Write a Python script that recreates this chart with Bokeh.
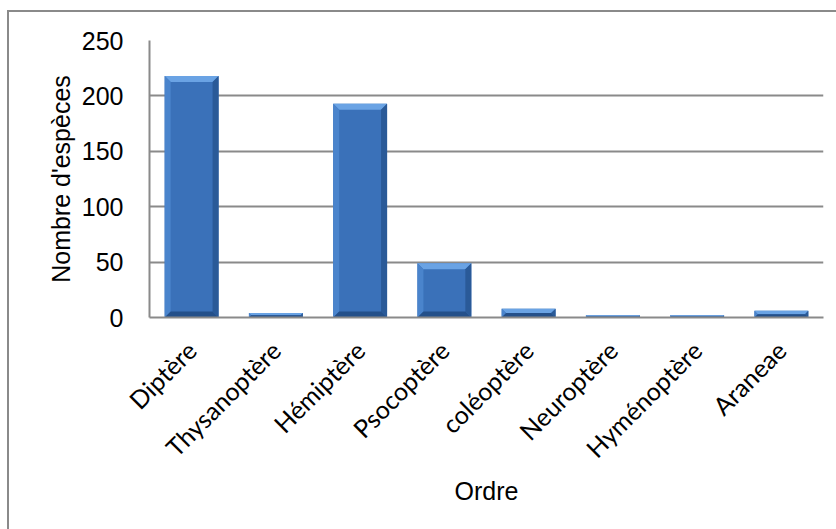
import math

from bokeh.embed import file_html
from bokeh.models import FixedTicker, InlineStyleSheet, Range1d
from bokeh.plotting import figure
from bokeh.resources import INLINE

# Number of species recorded per insect order (plus spiders)
orders = ["Diptère", "Thysanoptère", "Hémiptère", "Psocoptère",
          "coléoptère", "Neuroptère", "Hyménoptère", "Araneae"]
species = [218, 4, 193, 49, 8, 2, 2, 6]
y_ticks = [0, 50, 100, 150, 200, 250]

W, H = 836, 529
BORDER_L, BORDER_R, BORDER_T, BORDER_B = 149, 13, 40, 212
Y_MAX = 250

GRID = "#8a8a8a"

# grey chart-area frame drawn around the whole figure
frame_css = InlineStyleSheet(css=f"""
:host {{ position: relative; }}
:host::after {{
  content: "";
  position: absolute;
  left: 7px; top: 10px; right: -20px; bottom: -20px;
  border: 2px solid {GRID};
  pointer-events: none;
}}
""")

p = figure(width=W, height=H, output_backend="svg", toolbar_location=None,
           x_range=Range1d(-0.5, len(orders) - 0.5), y_range=Range1d(0, Y_MAX),
           min_border_left=BORDER_L, min_border_right=BORDER_R,
           min_border_top=BORDER_T, min_border_bottom=BORDER_B,
           background_fill_color="white", border_fill_color="white",
           stylesheets=[frame_css])
p.outline_line_color = None

# pixel size of one data unit, used to keep the bevel a constant width on screen
px_x = (W - BORDER_L - BORDER_R) / len(orders)
px_y = (H - BORDER_T - BORDER_B) / Y_MAX
bevel_px = 6.0

hw = 0.32
xs = list(range(len(orders)))
lefts = [x - hw for x in xs]
rights = [x + hw for x in xs]

# bar bodies
p.quad(left=lefts, right=rights, bottom=0, top=species,
       fill_color="#3a71b9", line_color=None)

# bevelled edges of each bar
pxs, pys, cols = [], [], []
for x, v in zip(xs, species):
    by = min(bevel_px / px_y, v / 2.0)
    bx = (bevel_px / px_x) * (by * px_y / bevel_px)
    l, r = x - hw, x + hw
    # top face
    pxs.append([l, r, r - bx, l + bx]); pys.append([v, v, v - by, v - by]); cols.append("#6aa3e4")
    # left face
    pxs.append([l, l + bx, l + bx, l]); pys.append([v, v - by, by, 0]); cols.append("#4a84cc")
    # right face
    pxs.append([r, r - bx, r - bx, r]); pys.append([v, v - by, by, 0]); cols.append("#2a5a98")
    # bottom face
    pxs.append([l, r, r - bx, l + bx]); pys.append([0, 0, by, by]); cols.append("#24508a")
p.patches(xs=pxs, ys=pys, fill_color=cols, line_color=None)

# axes
p.xaxis.ticker = FixedTicker(ticks=xs)
p.xaxis.major_label_overrides = {i: name for i, name in enumerate(orders)}
p.xaxis.major_label_orientation = math.pi / 4
p.xaxis.major_label_text_font = "Lato"
p.xaxis.major_label_text_font_size = "25px"
p.xaxis.major_label_text_color = "black"
p.xaxis.major_label_standoff = 22
p.xaxis.axis_label = "Ordre"
p.xaxis.axis_label_text_font = "Liberation Sans"
p.xaxis.axis_label_text_font_size = "25px"
p.xaxis.axis_label_text_font_style = "normal"
p.xaxis.axis_label_text_color = "black"
p.xaxis.axis_label_standoff = 0

p.yaxis.ticker = FixedTicker(ticks=y_ticks)
p.yaxis.major_label_text_font = "Liberation Sans"
p.yaxis.major_label_text_font_size = "25px"
p.yaxis.major_label_text_color = "black"
p.yaxis.major_label_standoff = 20
p.yaxis.axis_label = "Nombre d'espèces"
p.yaxis.axis_label_text_font = "Liberation Sans"
p.yaxis.axis_label_text_font_size = "25px"
p.yaxis.axis_label_text_font_style = "normal"
p.yaxis.axis_label_text_color = "black"
p.yaxis.axis_label_standoff = 4

for ax in (p.xaxis, p.yaxis):
    ax.axis_line_color = GRID
    ax.axis_line_width = 2
    ax.major_tick_line_color = None
    ax.minor_tick_line_color = None

p.xgrid.grid_line_color = None
p.ygrid.grid_line_color = GRID
p.ygrid.grid_line_width = 2

open("out.html", "w").write(file_html(p, INLINE))
